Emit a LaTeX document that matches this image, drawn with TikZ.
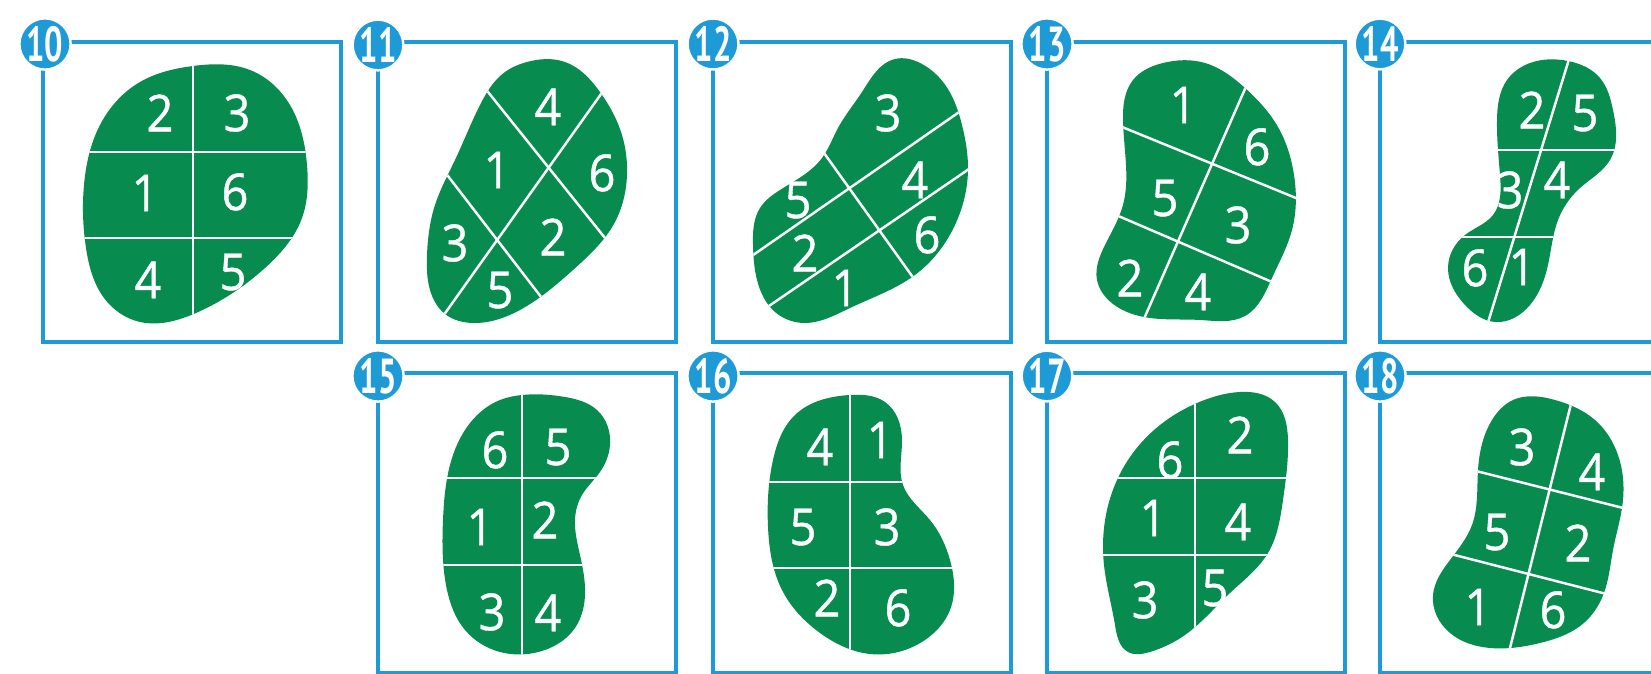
\documentclass[tikz,border=0pt]{standalone}
\usepackage{fontspec}
\usetikzlibrary{hobby}
\newfontfamily\digitfont{Open Sans}[FakeStretch=0.92, FakeBold=0.8]
\newfontfamily\badgefont{PT Sans}[FakeStretch=0.66]

\begin{document}
\begin{tikzpicture}[x=0.01cm, y=-0.01cm,
    frame/.style={draw=frameBlue, line width=1.2pt},
    patch/.style={preaction={fill=patchGreen}},
    divider/.style={draw=white, line width=0.7pt},
    num/.style={text=white, inner sep=0pt, font=\digitfont\fontsize{14.5}{15}\selectfont},
    badge/.style={circle, fill=frameBlue, draw=white, line width=0.7pt, minimum size=0.5cm,
                  inner sep=0pt, text=white, font=\badgefont\bfseries\fontsize{14}{14}\selectfont}]

    \definecolor{frameBlue}{HTML}{1E9AD6}
    \definecolor{patchGreen}{HTML}{078B4E}

    \useasboundingbox (0,0) rectangle (1651,674);
    \clip (0,0) rectangle (1651,674);

    % Draw frames
    \foreach \n/\x/\y in {10/43/42, 11/378/42, 12/713/42, 13/1047/42, 14/1380/42,
                          15/378/373, 16/713/373, 17/1047/373, 18/1380/373}
        \draw[frame] (\x,\y) rectangle ++(298,300);

    % Shape 10
    \begin{scope}
        \clip[patch] plot[closed hobby] coordinates {(193,66) (250,70) (290,105) (307,165) (302,218) (265,268) (196,313) (140,322) (104,298) (86,248) (84,185) (100,125) (140,82)};
        \draw[divider] (193,40) -- (193,340);
        \draw[divider] (60,152) -- (330,152);
        \draw[divider] (60,238) -- (330,238);
    \end{scope}
    \foreach \x/\y/\t in {160/113/2, 237/113/3, 145/193/1, 235/192/6, 148/280/4, 233/272/5}
        \node[num] (s10-\t) at (\x,\y) {\t};

    % Shape 11
    \begin{scope}
        \clip[patch] plot[closed hobby] coordinates {(527,62) (565,62) (600,92) (622,135) (627,175) (615,222) (573,270) (520,310) (473,323) (445,314) (430,290) (427,255) (435,205) (455,160) (480,105) (505,72)};
        \draw[divider] (472,72) -- (621,258);
        \draw[divider] (431,154) -- (558,319);
        \draw[divider] (616,73) -- (431,333);
    \end{scope}
    \foreach \x/\y/\t in {548/107/4, 497/170/1, 602/173/6, 455/243/3, 553/237/2, 500/290/5}
        \node[num] (s11-\t) at (\x,\y) {\t};

    % Shape 12
    \begin{scope}
        \clip[patch] plot[closed hobby] coordinates {(895,59) (922,64) (946,86) (962,125) (968,170) (955,225) (915,275) (850,308) (805,323) (775,312) (757,280) (753,245) (760,208) (780,190) (822,158) (838,128) (862,92)};
        \draw[divider] (733,269) -- (978,99);
        \draw[divider] (750,319) -- (988,156);
        \draw[divider] (809,132) -- (927,297);
    \end{scope}
    \foreach \x/\y/\t in {888/113/3, 798/200/5, 915/180/4, 805/253/2, 927/235/6, 845/288/1}
        \node[num] (s12-\t) at (\x,\y) {\t};

    % Shape 13
    \begin{scope}
        \clip[patch] plot[closed hobby] coordinates {(1163,63) (1205,63) (1245,88) (1278,127) (1294,175) (1292,230) (1272,278) (1245,316) (1200,320) (1150,318) (1113,304) (1097,280) (1105,245) (1123,205) (1126,165) (1123,120) (1133,80)};
        \draw[divider] (1252,73) -- (1136,337);
        \draw[divider] (1100,118) -- (1318,207);
        \draw[divider] (1095,206) -- (1300,294);
    \end{scope}
    \foreach \x/\y/\t in {1183/105/1, 1257/147/6, 1165/198/5, 1238/225/3, 1130/278/2, 1198/292/4}
        \node[num] (s13-\t) at (\x,\y) {\t};

    % Shape 14
    \begin{scope}
        \clip[patch] plot[closed hobby] coordinates {(1530,63) (1568,61) (1600,78) (1613,110) (1610,160) (1580,188) (1558,220) (1548,265) (1530,305) (1495,322) (1465,305) (1448,268) (1465,235) (1493,215) (1500,175) (1497,120) (1507,80)};
        \draw[divider] (1574,43) -- (1482,342);
        \draw[divider] (1480,150) -- (1630,150);
        \draw[divider] (1430,237) -- (1580,237);
    \end{scope}
    \foreach \x/\y/\t in {1532/110/2, 1585/113/5, 1510/190/3, 1557/180/4, 1475/268/6, 1522/267/1}
        \node[num] (s14-\t) at (\x,\y) {\t};

    % Shape 15
    \begin{scope}
        \clip[patch] plot[closed hobby] coordinates {(522,395) (565,397) (597,410) (610,445) (600,472) (582,495) (575,520) (580,555) (585,595) (575,628) (545,650) (500,652) (465,630) (446,585) (443,520) (450,465) (470,423) (500,400)};
        \draw[divider] (522,380) -- (522,670);
        \draw[divider] (430,478) -- (620,478);
        \draw[divider] (430,565) -- (620,565);
    \end{scope}
    \foreach \x/\y/\t in {495/450/6, 558/447/5, 480/527/1, 545/520/2, 492/612/3, 548/613/4}
        \node[num] (s15-\t) at (\x,\y) {\t};

    % Shape 16
    \begin{scope}
        \clip[patch] plot[closed hobby] coordinates {(850,395) (885,402) (902,440) (903,485) (930,520) (950,560) (950,610) (925,640) (870,654) (820,633) (782,590) (768,527) (773,460) (795,415)};
        \draw[divider] (850,380) -- (850,670);
        \draw[divider] (750,482) -- (970,482);
        \draw[divider] (750,568) -- (970,568);
    \end{scope}
    \foreach \x/\y/\t in {820/447/4, 880/440/1, 803/527/5, 887/527/3, 827/598/2, 898/608/6}
        \node[num] (s16-\t) at (\x,\y) {\t};

    % Shape 17
    \begin{scope}
        \clip[patch] plot[closed hobby] coordinates {(1197,403) (1240,392) (1275,402) (1288,440) (1283,500) (1268,553) (1230,593) (1185,635) (1150,652) (1128,652) (1115,625) (1104,565) (1107,510) (1128,460) (1160,425)};
        \draw[divider] (1195,380) -- (1195,670);
        \draw[divider] (1090,478) -- (1300,478);
        \draw[divider] (1090,555) -- (1300,555);
    \end{scope}
    \foreach \x/\y/\t in {1170/460/6, 1240/435/2, 1153/518/1, 1238/522/4, 1145/600/3, 1215/588/5}
        \node[num] (s17-\t) at (\x,\y) {\t};

    % Shape 18
    \begin{scope}
        \clip[patch] plot[closed hobby] coordinates {(1513,400) (1555,400) (1595,420) (1618,455) (1623,500) (1613,550) (1605,590) (1585,622) (1540,643) (1490,648) (1450,633) (1433,595) (1450,560) (1472,525) (1478,470) (1492,420)};
        \draw[divider] (1575,388) -- (1505,668);
        \draw[divider] (1460,467) -- (1643,513);
        \draw[divider] (1435,550) -- (1622,598);
    \end{scope}
    \foreach \x/\y/\t in {1522/447/3, 1592/472/4, 1497/532/5, 1578/543/2, 1478/607/1, 1553/610/6}
        \node[num] (s18-\t) at (\x,\y) {\t};

    % Badges
    \foreach \n/\x/\y in {10/45/44, 11/378/45, 12/713/44, 13/1047/44, 14/1380/44,
                          15/378/376, 16/713/376, 17/1047/376, 18/1380/376}
        \node[badge] (b\n) at (\x,\y) {\n};

\end{tikzpicture}
\end{document}
